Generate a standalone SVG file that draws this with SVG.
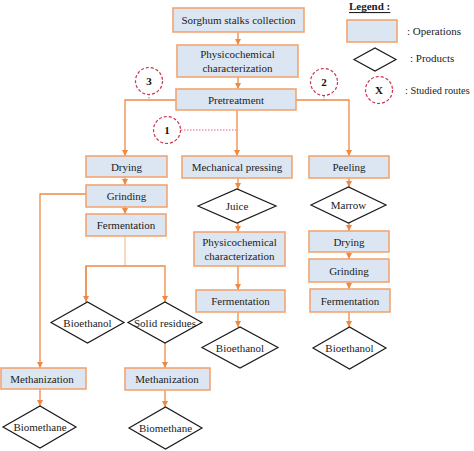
<svg xmlns="http://www.w3.org/2000/svg" width="474" height="451" viewBox="0 0 474 451">
<defs>
<marker id="arr" markerUnits="userSpaceOnUse" markerWidth="7" markerHeight="6" refX="6" refY="3" orient="auto">
<path d="M0,0 L6,3 L0,6 z" fill="#ee8944"/>
</marker>
<style>
text{font-family:'Liberation Serif','DejaVu Serif',serif}
.op{fill:#dce6f2;stroke:#f2a672;stroke-width:1.6}
.pr{fill:#fff;stroke:#1a1a1a;stroke-width:1.2}
.rt{fill:#fff;stroke:#c9354f;stroke-width:1.2;stroke-dasharray:3 2}
.t{font-size:11px;fill:#222;text-anchor:middle;dominant-baseline:central}
.n{font-size:11px;font-weight:bold;fill:#111;text-anchor:middle;dominant-baseline:central}
.l{font-size:11px;fill:#222;dominant-baseline:central}
.c{fill:none;stroke:#ee8944;stroke-width:1.3}
.cp{fill:none;stroke:#f5c6a4;stroke-width:1.3}
.d{fill:none;stroke:#d8667a;stroke-width:1;stroke-dasharray:1.5 1.5}
</style>
</defs>
<rect width="474" height="451" fill="#fff"/>

<g id="connectors">
<path class="c" d="M238,32 V45" marker-end="url(#arr)"/>
<path class="c" d="M238,77 V89" marker-end="url(#arr)"/>
<path class="c" d="M237,110 V156" marker-end="url(#arr)"/>
<path class="c" d="M176,100 H125 V156" marker-end="url(#arr)"/>
<path class="c" d="M296,100 H349 V156" marker-end="url(#arr)"/>
<path class="c" d="M125,177 V185" marker-end="url(#arr)"/>
<path class="c" d="M125,207 V214" marker-end="url(#arr)"/>
<path class="cp" d="M125,236 V266"/>
<path class="c" d="M86,302 V266 H165 V302" marker-end="url(#arr)"/>
<path class="c" d="M86,266 V302" marker-end="url(#arr)"/>
<path class="c" d="M86,194 H40 V368" marker-end="url(#arr)"/>
<path class="c" d="M165,343 V368" marker-end="url(#arr)"/>
<path class="c" d="M40,389 V406" marker-end="url(#arr)"/>
<path class="c" d="M165,390 V407" marker-end="url(#arr)"/>
<path class="c" d="M238,178 V189" marker-end="url(#arr)"/>
<path class="c" d="M238,223 V232" marker-end="url(#arr)"/>
<path class="c" d="M238,266 V290" marker-end="url(#arr)"/>
<path class="c" d="M238,312 V327" marker-end="url(#arr)"/>
<path class="c" d="M349,178 V187" marker-end="url(#arr)"/>
<path class="c" d="M349,223 V231" marker-end="url(#arr)"/>
<path class="c" d="M349,252 V259" marker-end="url(#arr)"/>
<path class="c" d="M349,282 V289" marker-end="url(#arr)"/>
<path class="c" d="M349,312 V327" marker-end="url(#arr)"/>
<path class="d" d="M149,94 V100"/>
<path class="d" d="M324,96 V100"/>
<path class="d" d="M181,130 H236"/>
</g>

<g id="n-sorghum"><rect class="op" x="173" y="8" width="131" height="24"/><text class="t" x="238.5" y="20">Sorghum stalks collection</text></g>
<g id="n-physico1"><rect class="op" x="177" y="45" width="121" height="32"/><text class="t" x="237.5" y="54">Physicochemical</text><text class="t" x="237.5" y="68">characterization</text></g>
<g id="n-pretreatment"><rect class="op" x="176" y="89" width="120" height="21"/><text class="t" x="236" y="99.5">Pretreatment</text></g>

<g id="r-3"><circle class="rt" cx="149" cy="81" r="13.5"/><text class="n" x="149" y="81">3</text></g>
<g id="r-2"><circle class="rt" cx="324" cy="82" r="13.5"/><text class="n" x="324" y="82">2</text></g>
<g id="r-1"><circle class="rt" cx="167" cy="130" r="13.5"/><text class="n" x="167" y="130">1</text></g>

<g id="n-drying1"><rect class="op" x="86" y="156" width="81" height="21"/><text class="t" x="126.5" y="166.5">Drying</text></g>
<g id="n-grinding1"><rect class="op" x="86" y="185" width="81" height="22"/><text class="t" x="126.5" y="196">Grinding</text></g>
<g id="n-ferm1"><rect class="op" x="86" y="214" width="80" height="22"/><text class="t" x="126" y="225">Fermentation</text></g>
<g id="n-bioeth1"><polygon class="pr" points="51,322.5 87.5,302 124,322.5 87.5,343"/><text class="t" x="87.5" y="322.5">Bioethanol</text></g>
<g id="n-solid"><polygon class="pr" points="128,322.5 165,302 202,322.5 165,343"/><text class="t" x="165" y="322.5">Solid residues</text></g>
<g id="n-meth1"><rect class="op" x="1" y="368" width="85" height="21"/><text class="t" x="42" y="378.5">Methanization</text></g>
<g id="n-meth2"><rect class="op" x="125" y="368" width="85" height="22"/><text class="t" x="167" y="379">Methanization</text></g>
<g id="n-biometh1"><polygon class="pr" points="3,427 40,406 76,427 40,448"/><text class="t" x="40" y="427">Biomethane</text></g>
<g id="n-biometh2"><polygon class="pr" points="129,428 165.5,407 202,428 165.5,449"/><text class="t" x="165.5" y="428">Biomethane</text></g>

<g id="n-mech"><rect class="op" x="182" y="156" width="110" height="22"/><text class="t" x="237" y="167">Mechanical pressing</text></g>
<g id="n-juice"><polygon class="pr" points="198,206 237,189 276,206 237,223"/><text class="t" x="237" y="206">Juice</text></g>
<g id="n-physico2"><rect class="op" x="194" y="232" width="91" height="34"/><text class="t" x="239.5" y="242">Physicochemical</text><text class="t" x="239.5" y="256">characterization</text></g>
<g id="n-ferm2"><rect class="op" x="196" y="290" width="89" height="22"/><text class="t" x="240.5" y="301">Fermentation</text></g>
<g id="n-bioeth2"><polygon class="pr" points="202,347.5 240,327 278,347.5 240,368"/><text class="t" x="240" y="347.5">Bioethanol</text></g>

<g id="n-peeling"><rect class="op" x="309" y="156" width="80" height="22"/><text class="t" x="349" y="167">Peeling</text></g>
<g id="n-marrow"><polygon class="pr" points="311,205 348.5,187 386,205 348.5,223"/><text class="t" x="348.5" y="205">Marrow</text></g>
<g id="n-drying3"><rect class="op" x="309" y="231" width="80" height="21"/><text class="t" x="349" y="241.5">Drying</text></g>
<g id="n-grinding3"><rect class="op" x="309" y="259" width="80" height="23"/><text class="t" x="349" y="270.5">Grinding</text></g>
<g id="n-ferm3"><rect class="op" x="310" y="289" width="80" height="23"/><text class="t" x="350" y="300.5">Fermentation</text></g>
<g id="n-bioeth3"><polygon class="pr" points="313,348 349.5,327 386,348 349.5,369"/><text class="t" x="349.5" y="348">Bioethanol</text></g>

<g id="legend">
<text class="l" x="349" y="6" style="font-weight:bold;text-decoration:underline">Legend :</text>
<rect class="op" x="347" y="20" width="50" height="22"/>
<text class="l" x="407" y="31">: Operations</text>
<polygon class="pr" points="354,59.5 375,48 396,59.5 375,71"/>
<text class="l" x="410" y="58">: Products</text>
<circle class="rt" cx="379" cy="90" r="13.5"/>
<text class="n" x="379" y="90">X</text>
<text class="l" x="405" y="90" style="font-size:10.3px">: Studied routes</text>
</g>
</svg>
